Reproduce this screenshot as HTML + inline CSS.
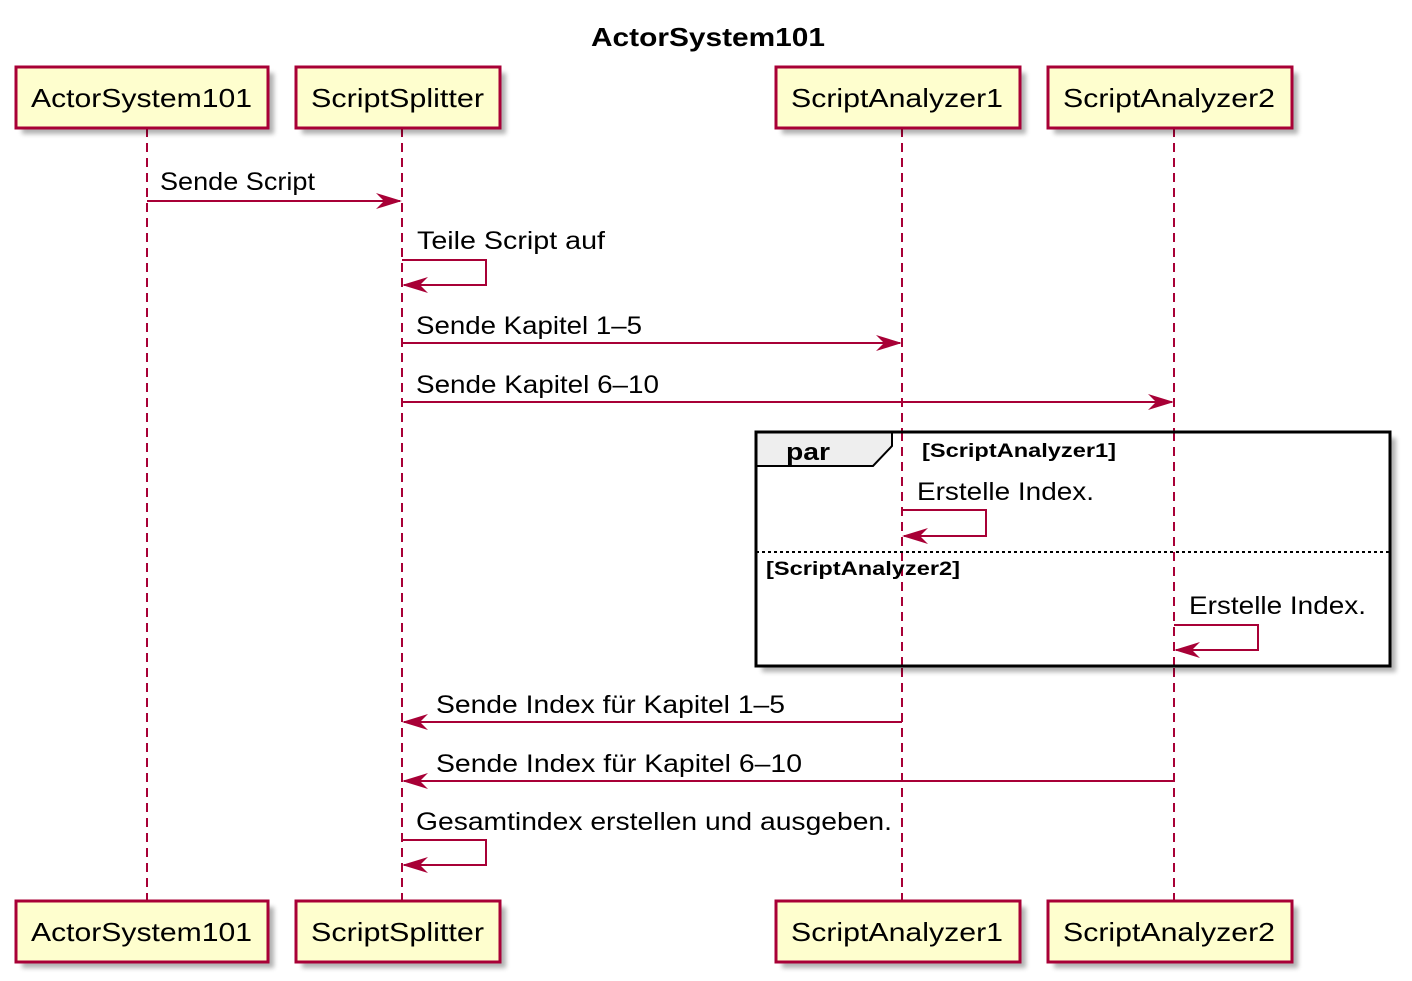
<!DOCTYPE html>
<html><head><meta charset="utf-8"><style>
html,body{margin:0;padding:0;background:#fff;}
svg{display:block;font-family:"Liberation Sans",sans-serif;}
</style></head><body>
<svg width="1412" height="981" viewBox="0 0 1412 981" xmlns="http://www.w3.org/2000/svg">
<defs>
<filter id="sh" x="-10%" y="-10%" width="130%" height="140%"><feGaussianBlur stdDeviation="2.5"/></filter>
</defs>
<text x="708" y="46" text-anchor="middle" font-size="26" font-weight="bold" textLength="234" lengthAdjust="spacingAndGlyphs">ActorSystem101</text>

<g stroke="#A80036" stroke-width="2" stroke-dasharray="9,6">
<line x1="147" y1="128" x2="147" y2="901"/>
<line x1="402" y1="128" x2="402" y2="901"/>
<line x1="902" y1="128" x2="902" y2="901"/>
<line x1="1174" y1="128" x2="1174" y2="901"/>
</g>

<g>
<g fill="#000" opacity="0.3" filter="url(#sh)">
<rect x="22" y="73" width="252" height="61"/><rect x="302" y="73" width="204" height="61"/><rect x="782" y="73" width="244" height="61"/><rect x="1054" y="73" width="244" height="61"/>
<rect x="22" y="907" width="252" height="61"/><rect x="302" y="907" width="204" height="61"/><rect x="782" y="907" width="244" height="61"/><rect x="1054" y="907" width="244" height="61"/>
</g>
<g fill="#FEFECE" stroke="#A80036" stroke-width="3">
<rect x="16" y="67" width="252" height="61"/><rect x="296" y="67" width="204" height="61"/><rect x="776" y="67" width="244" height="61"/><rect x="1048" y="67" width="244" height="61"/>
<rect x="16" y="901" width="252" height="61"/><rect x="296" y="901" width="204" height="61"/><rect x="776" y="901" width="244" height="61"/><rect x="1048" y="901" width="244" height="61"/>
</g>
<g font-size="26" fill="#000">
<text x="31" y="107" textLength="221" lengthAdjust="spacingAndGlyphs">ActorSystem101</text>
<text x="311" y="107" textLength="173" lengthAdjust="spacingAndGlyphs">ScriptSplitter</text>
<text x="791" y="107" textLength="212" lengthAdjust="spacingAndGlyphs">ScriptAnalyzer1</text>
<text x="1063" y="107" textLength="212" lengthAdjust="spacingAndGlyphs">ScriptAnalyzer2</text>
<text x="31" y="941" textLength="221" lengthAdjust="spacingAndGlyphs">ActorSystem101</text>
<text x="311" y="941" textLength="173" lengthAdjust="spacingAndGlyphs">ScriptSplitter</text>
<text x="791" y="941" textLength="212" lengthAdjust="spacingAndGlyphs">ScriptAnalyzer1</text>
<text x="1063" y="941" textLength="212" lengthAdjust="spacingAndGlyphs">ScriptAnalyzer2</text>
</g>
</g>

<rect x="762" y="438" width="634" height="234" fill="#000" opacity="0.3" filter="url(#sh)"/>
<rect x="756" y="432" width="634" height="234" fill="#fff" stroke="#000" stroke-width="3"/>
<line x1="902" y1="432" x2="902" y2="666" stroke="#A80036" stroke-width="2" stroke-dasharray="9,6"/>
<line x1="1174" y1="432" x2="1174" y2="666" stroke="#A80036" stroke-width="2" stroke-dasharray="9,6"/>
<polygon points="756,432 892,432 892,446 873,466 756,466" fill="#EEEEEE" stroke="#000" stroke-width="2"/>
<text x="786" y="460" font-size="24" font-weight="bold" textLength="44" lengthAdjust="spacingAndGlyphs">par</text>
<text x="922" y="457" font-size="19" font-weight="bold" textLength="194" lengthAdjust="spacingAndGlyphs">[ScriptAnalyzer1]</text>
<line x1="756" y1="552" x2="1390" y2="552" stroke="#000" stroke-width="2" stroke-dasharray="3,3"/>
<text x="766" y="575" font-size="19" font-weight="bold" textLength="194" lengthAdjust="spacingAndGlyphs">[ScriptAnalyzer2]</text>
<rect x="756" y="432" width="634" height="234" fill="none" stroke="#000" stroke-width="3"/>

<g stroke="#A80036" stroke-width="2" fill="none">
<line x1="147" y1="201" x2="400" y2="201"/>
<polyline points="402,260 486,260 486,285 404,285"/>
<line x1="402" y1="343" x2="900" y2="343"/>
<line x1="402" y1="402" x2="1172" y2="402"/>
<polyline points="902,510 986,510 986,536 904,536"/>
<polyline points="1174,625 1258,625 1258,650 1176,650"/>
<line x1="902" y1="722" x2="404" y2="722"/>
<line x1="1174" y1="781" x2="404" y2="781"/>
<polyline points="402,840 486,840 486,865 404,865"/>
</g>
<g fill="#A80036">
<polygon points="402,201 376,193 384,201 376,209"/>
<polygon points="402,285 428,277 420,285 428,293"/>
<polygon points="902,343 876,335 884,343 876,351"/>
<polygon points="1174,402 1148,394 1156,402 1148,410"/>
<polygon points="902,536 928,528 920,536 928,544"/>
<polygon points="1174,650 1200,642 1192,650 1200,658"/>
<polygon points="402,722 428,714 420,722 428,730"/>
<polygon points="402,781 428,773 420,781 428,789"/>
<polygon points="402,865 428,857 420,865 428,873"/>
</g>
<g font-size="25" fill="#000">
<text x="160" y="190" textLength="155" lengthAdjust="spacingAndGlyphs">Sende Script</text>
<text x="417" y="249" textLength="188" lengthAdjust="spacingAndGlyphs">Teile Script auf</text>
<text x="416" y="334" textLength="226" lengthAdjust="spacingAndGlyphs">Sende Kapitel 1–5</text>
<text x="416" y="393" textLength="243" lengthAdjust="spacingAndGlyphs">Sende Kapitel 6–10</text>
<text x="917" y="500" textLength="177" lengthAdjust="spacingAndGlyphs">Erstelle Index.</text>
<text x="1189" y="614" textLength="177" lengthAdjust="spacingAndGlyphs">Erstelle Index.</text>
<text x="436" y="713" textLength="349" lengthAdjust="spacingAndGlyphs">Sende Index für Kapitel 1–5</text>
<text x="436" y="772" textLength="366" lengthAdjust="spacingAndGlyphs">Sende Index für Kapitel 6–10</text>
<text x="416" y="830" textLength="476" lengthAdjust="spacingAndGlyphs">Gesamtindex erstellen und ausgeben.</text>
</g>
</svg>
</body></html>
